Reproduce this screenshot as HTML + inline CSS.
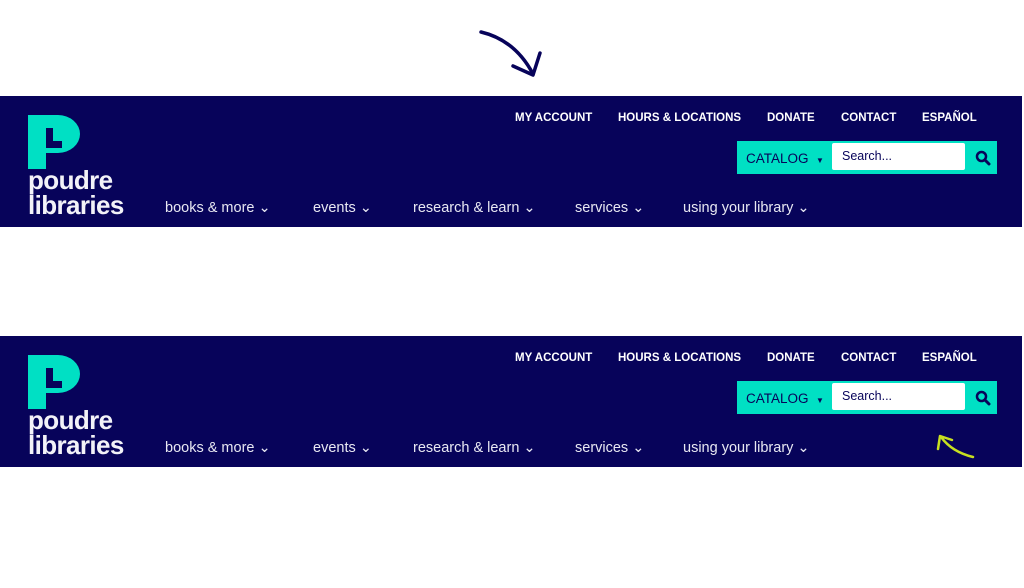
<!DOCTYPE html>
<html><head><style>
body{margin:0;width:1024px;height:588px;background:#fff;position:relative;overflow:hidden;font-family:"Liberation Sans",sans-serif}
.bar{position:absolute;left:0;width:1022px;height:131px;background:#07035a}
.t{position:absolute;color:#fff;white-space:nowrap}
.top{font-size:11.5px;font-weight:bold;top:16px}
.nav{font-size:14.5px;top:104px;color:#e8e8f2}
.logo{position:absolute;left:28px;top:19px}
.lt{position:absolute;left:28px;font-weight:bold;font-size:26px;color:#f2f2f8;letter-spacing:-0.6px;line-height:26px}
.sb{position:absolute;left:737px;top:45px;width:260px;height:33px;background:#00e0c4}
.cat{position:absolute;left:9px;top:10px;font-size:13.5px;color:#07035a}
.in{position:absolute;left:95px;top:2px;width:133px;height:27px;background:#fff;border-radius:2px}
.in span{position:absolute;left:10px;top:6px;font-size:12.5px;color:#07035a}
</style></head><body>
<svg style="position:absolute;left:0;top:0" width="1024" height="588">
<path d="M481 32 Q515 40 533 74" fill="none" stroke="#07035a" stroke-width="3.5" stroke-linecap="round"/>
<path d="M513 66 L533 75 L540 53" fill="none" stroke="#07035a" stroke-width="3.5" stroke-linecap="round" stroke-linejoin="round"/>
</svg>
<div class="bar" style="top:96px" id="b1"></div>
<div class="bar" style="top:336px" id="b2"></div>
<script>
var h='<svg class="logo" width="54" height="56" viewBox="0 0 54 56"><path d="M0 0 H30 A22 19 0 0 1 30 38 H18 V54 H0 Z" fill="#00e0c4"/><path d="M18 13 H25 V26 H34 V33 H18 Z" fill="#07035a"/></svg>'+
'<div class="lt" style="top:71px">poudre</div><div class="lt" style="top:96px">libraries</div>'+
'<div class="t top" style="left:515px">MY ACCOUNT</div><div class="t top" style="left:618px">HOURS &amp; LOCATIONS</div><div class="t top" style="left:767px">DONATE</div><div class="t top" style="left:841px">CONTACT</div><div class="t top" style="left:922px">ESPAÑOL</div>'+
'<div class="sb"><div class="cat">CATALOG &nbsp;<span style="font-size:8px">▼</span></div><div class="in"><span>Search...</span></div>'+
'<svg style="position:absolute;left:238px;top:9px" width="16" height="16"><circle cx="6.5" cy="6.5" r="4.5" fill="none" stroke="#07035a" stroke-width="2.5"/><path d="M10 10 L14 14" stroke="#07035a" stroke-width="3" stroke-linecap="round"/></svg></div>'+
'<div class="t nav" style="left:165px">books &amp; more ⌄</div><div class="t nav" style="left:313px">events ⌄</div><div class="t nav" style="left:413px">research &amp; learn ⌄</div><div class="t nav" style="left:575px">services ⌄</div><div class="t nav" style="left:683px">using your library ⌄</div>';
document.getElementById('b1').innerHTML=h;document.getElementById('b2').innerHTML=h;
</script>
<svg style="position:absolute;left:0;top:0" width="1024" height="588">
<path d="M973 457 Q952 452 941 437" fill="none" stroke="#c8e020" stroke-width="2.5" stroke-linecap="round"/>
<path d="M938 449 L940 436 L952 440" fill="none" stroke="#c8e020" stroke-width="2.5" stroke-linecap="round" stroke-linejoin="round"/>
</svg>
</body></html>
